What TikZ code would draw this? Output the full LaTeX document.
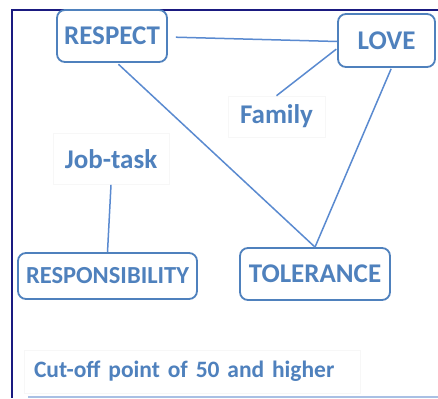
\documentclass[tikz,border=0pt]{standalone}
\usepackage{fontspec}
\setmainfont{Carlito}
\definecolor{txtblue}{HTML}{4F81BD}
\definecolor{lineblue}{HTML}{5A8AD0}
\definecolor{navy}{HTML}{1A1A80}
\definecolor{faintline}{HTML}{A9C0E4}
\begin{document}
\begin{tikzpicture}[x=1pt,y=-1pt,
  lbl/.style={font=\fontsize{27}{30}\selectfont\bfseries, text=txtblue, inner sep=0pt},
  conceptbox/.style={lbl, draw=txtblue, line width=1.8pt, rounded corners=8pt, fill=white},
  plainbox/.style={lbl, draw=black!3, line width=0.6pt, fill=white},
  link/.style={draw=lineblue, line width=1.5pt}]
\useasboundingbox (0,0) rectangle (438,398);
\fill[white] (0,0) rectangle (438,398);
% frame
\draw[navy, line width=1.8pt] (438,10) -- (12,10) -- (12,398);
\draw[faintline, line width=2pt] (28,397) -- (438,397);
% text boxes
\node[plainbox, minimum width=97pt, minimum height=41pt] (family) at (276.5,116.5) {Family};
\node[plainbox, minimum width=116pt, minimum height=51pt] (jobtask) at (111,159) {Job-task};
\node[plainbox, font=\fontsize{23.5}{26}\selectfont\bfseries, minimum width=336pt, minimum height=43pt, text width=316pt, align=left] (cutoff) at (192,371.5) {Cut-off point of 50 and higher};
% concept boxes
\node[conceptbox, minimum width=110pt, minimum height=52pt] (respect) at (112,36) {RESPECT};
\node[conceptbox, minimum width=97pt, minimum height=53pt] (love) at (386.5,40.5) {LOVE};
\node[conceptbox, font=\fontsize{24.5}{27}\selectfont\bfseries, minimum width=179pt, minimum height=46pt] (responsibility) at (107.5,276) {RESPONSIBILITY};
\node[conceptbox, minimum width=150pt, minimum height=52pt] (tolerance) at (315,274) {TOLERANCE};
% connectors
\draw[link, shorten <=8pt] ([yshift=-1pt]respect.east) -- ([yshift=-1pt]love.west);
\draw[link, shorten <=1pt] ([yshift=-8pt]love.west) -- (family.north);
\draw[link, shorten <=2pt] ([xshift=5pt]respect.south) -- (tolerance.north);
\draw[link, shorten <=1pt] ([xshift=5pt]love.south) -- (tolerance.north);
\draw[link] (jobtask.south) -- (responsibility.north);
\end{tikzpicture}
\end{document}
